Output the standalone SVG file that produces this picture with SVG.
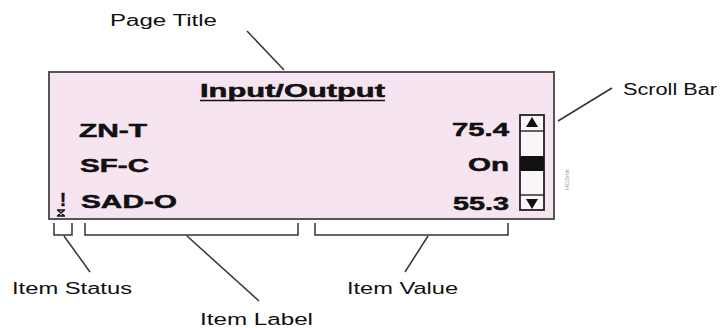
<svg xmlns="http://www.w3.org/2000/svg" width="728" height="328" viewBox="0 0 728 328">
<style>
.lbl{font-family:"Liberation Sans",Arial,sans-serif;font-size:16px;fill:#111}
.scr{font-family:"Liberation Sans",Arial,sans-serif;font-size:18px;font-weight:bold;fill:#111;stroke:#111;stroke-width:0.5}
.ldr{stroke:#333;stroke-width:1.5;fill:none}
</style>
<rect width="728" height="328" fill="#ffffff"/>
<g id="screen">
<rect x="49" y="72" width="505" height="147" fill="#f6e5f0" stroke="#555" stroke-width="2"/>
<text class="scr" x="200" y="97" font-size="19" textLength="185" lengthAdjust="spacingAndGlyphs">Input/Output</text>
<line x1="200" y1="100.5" x2="385" y2="100.5" stroke="#111" stroke-width="1.6"/>
</g>
<g id="row1">
<text class="scr" x="79" y="137" textLength="68" lengthAdjust="spacingAndGlyphs">ZN-T</text>
<text class="scr" x="509" y="136" text-anchor="end" textLength="57" lengthAdjust="spacingAndGlyphs">75.4</text>
</g>
<g id="row2">
<text class="scr" x="80" y="172" textLength="69" lengthAdjust="spacingAndGlyphs">SF-C</text>
<text class="scr" x="509" y="171" text-anchor="end" textLength="41" lengthAdjust="spacingAndGlyphs">On</text>
</g>
<g id="row3">
<text class="scr" x="60" y="206" font-size="17">!</text>
<path d="M57.5 210 L64.5 216 M64.5 210 L57.5 216 M57 210 H65 M57 216 H65" stroke="#111" stroke-width="1.6" fill="none"/>
<text class="scr" x="81" y="208" textLength="96" lengthAdjust="spacingAndGlyphs">SAD-O</text>
<text class="scr" x="509" y="210" text-anchor="end" textLength="56" lengthAdjust="spacingAndGlyphs">55.3</text>
</g>
<g id="scrollbar">
<rect x="520" y="115" width="24" height="95" fill="#fbf4f9" stroke="#222" stroke-width="1.8"/>
<line x1="520" y1="131" x2="544" y2="131" stroke="#222" stroke-width="1.4"/>
<line x1="520" y1="195" x2="544" y2="195" stroke="#222" stroke-width="1.4"/>
<rect x="520" y="156" width="24" height="15" fill="#111"/>
<path d="M532 117 L538 127 L526 127 Z" fill="#111"/>
<path d="M526 199 L538 199 L532 209 Z" fill="#111"/>
</g>
<text x="569" y="190" transform="rotate(-90 569 190)" font-family="Liberation Sans,Arial,sans-serif" font-size="6" fill="#999">HGSmk</text>
<g id="labels">
<text class="lbl" x="110" y="26" textLength="107" lengthAdjust="spacingAndGlyphs">Page Title</text>
<text class="lbl" x="623" y="95" textLength="94" lengthAdjust="spacingAndGlyphs">Scroll Bar</text>
<text class="lbl" x="12" y="294" textLength="120" lengthAdjust="spacingAndGlyphs">Item Status</text>
<text class="lbl" x="200" y="325" textLength="113" lengthAdjust="spacingAndGlyphs">Item Label</text>
<text class="lbl" x="347" y="294" textLength="111" lengthAdjust="spacingAndGlyphs">Item Value</text>
</g>
<g id="connectors">
<line class="ldr" x1="247" y1="31" x2="284" y2="70"/>
<line class="ldr" x1="558" y1="121" x2="612" y2="88"/>
<path class="ldr" d="M54 223 V235 H72 V223"/>
<path class="ldr" d="M85 223 V235 H298 V223"/>
<path class="ldr" d="M315 223 V235 H508 V223"/>
<line class="ldr" x1="64" y1="236" x2="90" y2="272"/>
<line class="ldr" x1="187" y1="236" x2="259" y2="301"/>
<line class="ldr" x1="428" y1="236" x2="405" y2="272"/>
</g>
</svg>
